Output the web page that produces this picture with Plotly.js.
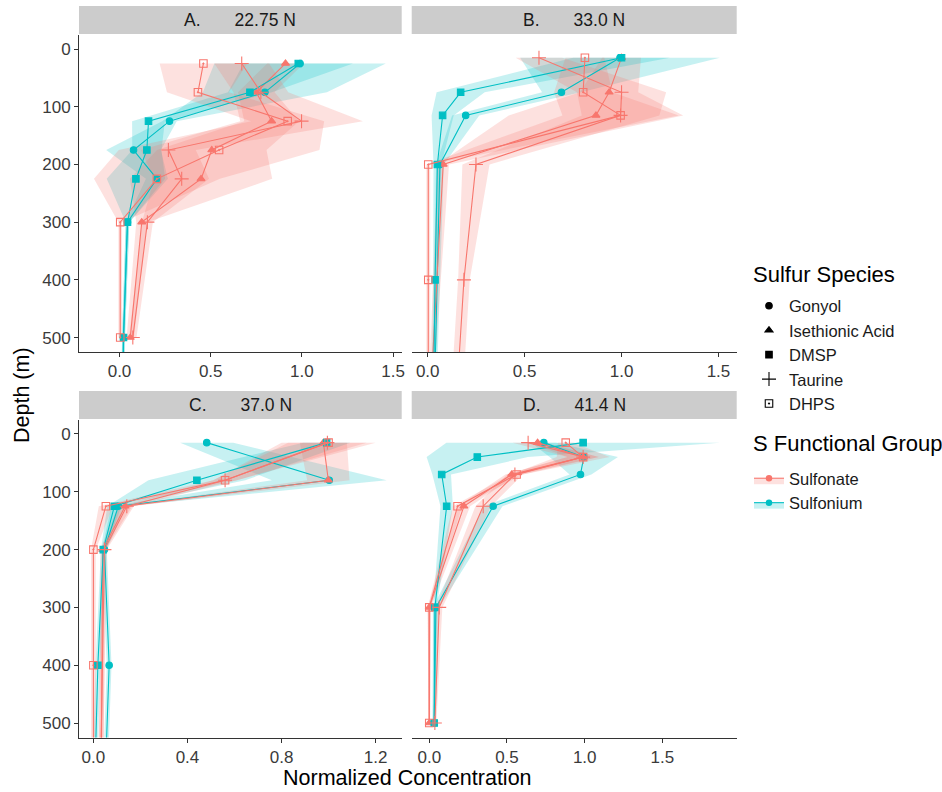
<!DOCTYPE html>
<html><head><meta charset="utf-8">
<script src="https://cdn.plot.ly/plotly-3.0.1.min.js"></script>
<style>html,body{margin:0;padding:0;background:#fff}</style>
</head><body><div id="chart" style="width:942px;height:792px"></div>
<script>
// ---------- DATA ----------
const speciesNames = ["Gonyol", "Isethionic Acid", "DMSP", "Taurine", "DHPS"];
const speciesGroup = ["Sulfonium", "Sulfonate", "Sulfonium", "Sulfonate", "Sulfonate"];
const groupNames = ["Sulfonate", "Sulfonium"];
const panelTitles = ["A.\u00a0\u00a0\u00a0\u00a0\u00a0\u00a0\u00a022.75 N", "B.\u00a0\u00a0\u00a0\u00a0\u00a0\u00a0\u00a033.0 N",
                     "C.\u00a0\u00a0\u00a0\u00a0\u00a0\u00a0\u00a037.0 N", "D.\u00a0\u00a0\u00a0\u00a0\u00a0\u00a0\u00a041.4 N"];
const depthTicks = [0, 100, 200, 300, 400, 500];

// Panel A (22.75 N)
const depthA = [25, 75, 125, 175, 225, 300, 500, 600];
const gonyolA = [0.99, 0.797, 0.274, 0.077, 0.205, 0.044, 0.022, 0.018];
const gonyolA_sd = [0.47, 0.34, 0.04, 0.15, 0.06, 0.01, 0.008, 0.008];
const isethA = [0.91, 0.75, 0.834, 0.506, 0.447, 0.122, 0.059, null];
const isethA_sd = [0.1, 0.1, 0.15, 0.3, 0.39, 0.03, 0.02, null];
const dmspA = [0.98, 0.715, 0.159, 0.15, 0.09, 0.044, 0.022, 0.018];
const dmspA_sd = [0.3, 0.12, 0.09, 0.08, 0.16, 0.01, 0.008, 0.008];
const taurA = [0.67, 0.775, 0.998, 0.268, 0.341, 0.153, 0.073, null];
const taurA_sd = [0.15, 0.15, 0.336, 0.15, 0.15, 0.03, 0.02, null];
const dhpsA = [0.46, 0.43, 0.922, 0.546, 0.205, 0.004, 0.004, null];
const dhpsA_sd = [0.24, 0.17, 0.2, 0.55, 0.345, 0.01, 0.01, null];

// Panel B (33.0 N)
const depthB = [15, 75, 115, 200, 400, 600];
const gonyolB = [0.992, 0.69, 0.196, 0.063, null, 0.035];
const gonyolB_sd = [0.515, 0.1, 0.07, 0.02, null, 0.01];
const isethB = [1.0, 0.936, 0.868, 0.08, null, 0.015];
const isethB_sd = [0.1, 0.15, 0.45, 0.03, null, 0.01];
const dmspB = [1.0, 0.17, 0.077, 0.05, 0.038, 0.03];
const dmspB_sd = [0.25, 0.124, 0.057, 0.02, 0.01, 0.01];
const taurB = [0.574, 1.0, 0.995, 0.249, 0.187, 0.15];
const taurB_sd = [0.12, 0.23, 0.2, 0.07, 0.03, 0.03];
const dhpsB = [0.811, 0.802, 0.995, 0.003, 0.003, 0.003];
const dhpsB_sd = [0.1, 0.15, 0.3, 0.01, 0.01, 0.01];

// Panel C (37.0 N)
const depthC = [15, 80, 125, 200, 400, 600];
const gonyolC = [0.482, 1.003, 0.106, 0.047, 0.067, 0.05];
const gonyolC_sd = [0.113, 0.244, 0.03, 0.01, 0.01, 0.01];
const isethC = [0.978, 0.999, 0.135, 0.04, null, 0.033];
const isethC_sd = [0.1, 0.09, 0.03, 0.01, null, 0.01];
const dmspC = [0.992, 0.44, 0.089, 0.042, 0.019, 0.006];
const dmspC_sd = [0.1, 0.206, 0.03, 0.01, 0.01, 0.01];
const taurC = [0.995, 0.56, 0.142, 0.047, null, 0.03];
const taurC_sd = [0.167, 0.05, 0.03, 0.01, null, 0.01];
const dhpsC = [1.0, 0.56, 0.053, 0.0, 0.0, 0.0];
const dhpsC_sd = [0.2, 0.05, 0.03, 0.01, 0.01, 0.01];

// Panel D (41.4 N)
const depthD = [15, 40, 70, 125, 300, 500];
const gonyolD = [0.737, 0.994, 0.973, 0.411, 0.043, 0.032];
const gonyolD_sd = [0.08, 0.22, 0.07, 0.06, 0.02, 0.01];
const isethD = [0.697, 0.99, 0.53, 0.223, 0.0, 0.0];
const isethD_sd = [0.05, 0.1, 0.04, 0.04, 0.01, 0.005];
const dmspD = [0.99, 0.309, 0.08, 0.112, 0.036, 0.032];
const dmspD_sd = [0.88, 0.326, 0.06, 0.04, 0.01, 0.01];
const taurD = [0.636, 0.99, 0.551, 0.347, 0.064, 0.036];
const taurD_sd = [0.1, 0.1, 0.05, 0.05, 0.02, 0.01];
const dhpsD = [0.878, 0.99, 0.562, 0.182, 0.0, 0.0];
const dhpsD_sd = [0.05, 0.17, 0.04, 0.03, 0.01, 0.005];

// ---------- STYLE ----------
const FONT = "Liberation Sans, Arial, sans-serif";
const groupColor = {Sulfonate: "#F8766D", Sulfonium: "#00BFC4"};
const groupFill = {Sulfonate: "rgba(248,118,109,0.22)", Sulfonium: "rgba(0,191,196,0.22)"};
const symbolOf = {"Gonyol": "circle", "Isethionic Acid": "triangle-up", "DMSP": "square", "Taurine": "cross-thin-open", "DHPS": "square-open-dot"};
const sizeOf = {"Gonyol": 6.5, "Isethionic Acid": 7, "DMSP": 6.5, "Taurine": 10, "DHPS": 7.5};

const panels = [
  {depth: depthA, vals: [gonyolA, isethA, dmspA, taurA, dhpsA], sds: [gonyolA_sd, isethA_sd, dmspA_sd, taurA_sd, dhpsA_sd], xa: "x", ya: "y"},
  {depth: depthB, vals: [gonyolB, isethB, dmspB, taurB, dhpsB], sds: [gonyolB_sd, isethB_sd, dmspB_sd, taurB_sd, dhpsB_sd], xa: "x2", ya: "y2"},
  {depth: depthC, vals: [gonyolC, isethC, dmspC, taurC, dhpsC], sds: [gonyolC_sd, isethC_sd, dmspC_sd, taurC_sd, dhpsC_sd], xa: "x3", ya: "y3"},
  {depth: depthD, vals: [gonyolD, isethD, dmspD, taurD, dhpsD], sds: [gonyolD_sd, isethD_sd, dmspD_sd, taurD_sd, dhpsD_sd], xa: "x4", ya: "y4"}
];

const traces = [];
// ribbons
panels.forEach(p => {
  speciesNames.forEach((sp, i) => {
    const g = speciesGroup[i];
    const lo = [], hi = [], dy = [];
    p.depth.forEach((d, k) => {
      const v = p.vals[i][k], s = p.sds[i][k];
      if (v === null || s === null) return;
      lo.push(v - s); hi.push(v + s); dy.push(d);
    });
    traces.push({
      type: "scatter", mode: "lines", xaxis: p.xa, yaxis: p.ya,
      x: lo.concat(hi.slice().reverse()), y: dy.concat(dy.slice().reverse()),
      fill: "toself", fillcolor: groupFill[g], line: {width: 0},
      hoverinfo: "skip", showlegend: false
    });
  });
});
// lines + points
panels.forEach(p => {
  speciesNames.forEach((sp, i) => {
    const g = speciesGroup[i];
    const c = groupColor[g];
    traces.push({
      type: "scatter", mode: "lines+markers", xaxis: p.xa, yaxis: p.ya,
      x: p.vals[i], y: p.depth, connectgaps: true, name: sp,
      line: {color: c, width: 1.1},
      marker: {symbol: symbolOf[sp], size: sizeOf[sp], color: c, line: {color: c, width: 1.1}},
      showlegend: false
    });
  });
});
// legend: species shapes
speciesNames.forEach(sp => {
  traces.push({
    type: "scatter", mode: "markers", x: [null], y: [null], name: sp, legend: "legend",
    marker: {symbol: symbolOf[sp], size: sizeOf[sp], color: "#000", line: {color: "#000", width: 1.1}},
    showlegend: true, hoverinfo: "skip"
  });
});
// legend: functional groups
groupNames.forEach(g => {
  traces.push({
    type: "scatter", mode: "lines+markers", x: [null], y: [null], name: g, legend: "legend2",
    fill: "toself", fillcolor: groupFill[g],
    line: {color: groupColor[g], width: 1.1},
    marker: {symbol: "circle", size: 6.5, color: groupColor[g]},
    showlegend: true, hoverinfo: "skip"
  });
});

// ---------- LAYOUT ----------
const W = 942, H = 792;
const px = v => v / W, py = v => 1 - v / H;
const colL = [px(79), px(401.7)], colR = [px(411.7), px(736.7)];
const rowT = [py(352), py(34.6)], rowB = [py(737.5), py(419.5)];

function xAxis(domain, range, tickvals, anchor) {
  return {domain, range, anchor, tickmode: "array", tickvals, ticktext: tickvals.map(v => v.toFixed(1)),
    showline: true, linecolor: "#333", linewidth: 1, ticks: "outside", ticklen: 4, tickcolor: "#333", tickwidth: 1,
    tickfont: {family: FONT, size: 17, color: "#3A3A3A"}, showgrid: false, zeroline: false, fixedrange: true};
}
function yAxis(domain, anchor, left) {
  return {domain, range: [525, -25], anchor, tickmode: "array", tickvals: depthTicks,
    showline: left, linecolor: "#333", linewidth: 1, ticks: left ? "outside" : "", ticklen: 4, tickcolor: "#333",
    showticklabels: left, tickfont: {family: FONT, size: 17, color: "#3A3A3A"},
    showgrid: false, zeroline: false, fixedrange: true};
}

const strips = [
  {x0: 79, x1: 401.7, y0: 6, y1: 34, t: panelTitles[0]},
  {x0: 411.7, x1: 736.7, y0: 6, y1: 34, t: panelTitles[1]},
  {x0: 79, x1: 401.7, y0: 391, y1: 419, t: panelTitles[2]},
  {x0: 411.7, x1: 736.7, y0: 391, y1: 419, t: panelTitles[3]}
];

const layout = {
  width: W, height: H, margin: {l: 0, r: 0, t: 0, b: 0},
  paper_bgcolor: "#fff", plot_bgcolor: "rgba(0,0,0,0)",
  font: {family: FONT, color: "#1A1A1A"},
  xaxis: xAxis(colL, [-0.222, 1.547], [0, 0.5, 1.0, 1.5], "y"),
  yaxis: yAxis(rowT, "x", true),
  xaxis2: xAxis(colR, [-0.0825, 1.594], [0, 0.5, 1.0, 1.5], "y2"),
  yaxis2: yAxis(rowT, "x2", false),
  xaxis3: xAxis(colL, [-0.0612, 1.311], [0, 0.4, 0.8, 1.2], "y3"),
  yaxis3: yAxis(rowB, "x3", true),
  xaxis4: xAxis(colR, [-0.113, 1.978], [0, 0.5, 1.0, 1.5], "y4"),
  yaxis4: yAxis(rowB, "x4", false),
  shapes: strips.map(s => ({type: "rect", xref: "paper", yref: "paper", x0: px(s.x0), x1: px(s.x1), y0: py(s.y1), y1: py(s.y0),
    fillcolor: "#CCCCCC", line: {width: 0}, layer: "below"})),
  annotations: strips.map(s => ({xref: "paper", yref: "paper", x: px((s.x0 + s.x1) / 2), y: py((s.y0 + s.y1) / 2),
    text: s.t, showarrow: false, xanchor: "center", yanchor: "middle", font: {family: FONT, size: 17.5, color: "#1A1A1A"}}))
    .concat([
      {xref: "paper", yref: "paper", x: px(22), y: py(395), text: "Depth (m)", textangle: -90, showarrow: false,
       xanchor: "center", yanchor: "middle", font: {family: FONT, size: 21.5, color: "#000"}},
      {xref: "paper", yref: "paper", x: px(407), y: py(778), text: "Normalized Concentration", showarrow: false,
       xanchor: "center", yanchor: "middle", font: {family: FONT, size: 21.5, color: "#000"}},
      {xref: "paper", yref: "paper", x: px(751), y: py(274), text: "Sulfur Species", showarrow: false,
       xanchor: "left", yanchor: "middle", font: {family: FONT, size: 22, color: "#000"}},
      {xref: "paper", yref: "paper", x: px(751), y: py(443), text: "S Functional Group", showarrow: false,
       xanchor: "left", yanchor: "middle", font: {family: FONT, size: 22, color: "#000"}}
    ]),
  legend: {font: {family: FONT, size: 16.5, color: "#1A1A1A"}, x: px(749), y: py(288.5), xanchor: "left", yanchor: "top",
    bgcolor: "rgba(0,0,0,0)", tracegroupgap: 0, itemclick: false, itemdoubleclick: false},
  legend2: {font: {family: FONT, size: 16.5, color: "#1A1A1A"}, x: px(749), y: py(461), xanchor: "left", yanchor: "top",
    bgcolor: "rgba(0,0,0,0)", tracegroupgap: 0, itemclick: false, itemdoubleclick: false}
};

Plotly.newPlot("chart", traces, layout, {displayModeBar: false, staticPlot: true});
</script>
</body></html>
